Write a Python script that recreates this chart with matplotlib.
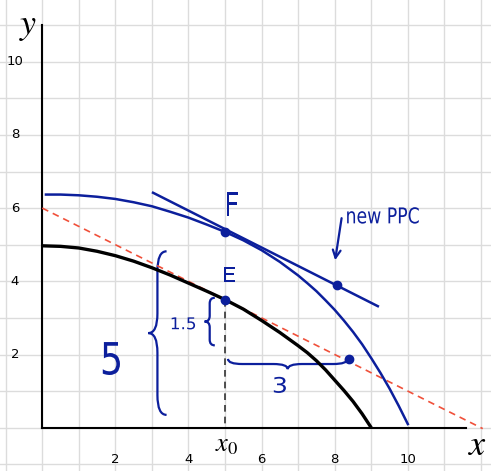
import numpy as np
import matplotlib.pyplot as plt
from matplotlib.path import Path
from matplotlib.patches import PathPatch
from matplotlib.textpath import TextPath
from matplotlib.font_manager import FontProperties
from matplotlib.transforms import Affine2D

# original PPC (black)
ppc_x = [0, 0.5, 1, 1.5, 2, 2.5, 3, 3.5, 4, 4.5, 5, 5.5, 6, 6.5, 7, 7.25, 7.5, 7.75, 8, 8.25, 8.5, 8.75, 9]
ppc_y = [4.97, 4.955, 4.91, 4.82, 4.70, 4.55, 4.37, 4.17, 3.95, 3.73, 3.50, 3.24, 2.93, 2.60, 2.24, 2.05, 1.83, 1.58, 1.30, 1.02, 0.72, 0.38, 0.0]

# new PPC (blue)
new_x = [0.1, 0.5, 1, 1.5, 2, 2.5, 3, 3.5, 4, 4.5, 5, 5.5, 6, 6.5, 7, 7.25, 7.5, 7.75, 8, 8.25, 8.5, 8.75, 9, 9.25, 9.5, 9.75, 10]
new_y = [6.37, 6.37, 6.35, 6.31, 6.25, 6.16, 6.05, 5.90, 5.74, 5.55, 5.35, 5.12, 4.85, 4.53, 4.16, 3.95, 3.73, 3.48, 3.22, 2.93, 2.62, 2.28, 1.90, 1.50, 1.07, 0.60, 0.10]

# price line (red dashed) and tangent at F (blue)
red_x = [0, 12.05]
red_y = [6.0, -0.025]
tan_x = [3.03, 9.18]
tan_y = [6.42, 3.32]

# marked points
pts_x = [5.0, 5.0, 8.05, 8.4]
pts_y = [3.5, 5.36, 3.89, 1.87]

x_ticks = [2, 4, 6, 8, 10]
y_ticks = [2, 4, 6, 8, 10]

BLUE = "#0c1f9c"


def brace(ax, a, b, pos, depth, vertical=True, **kw):
    # curly brace from a to b, tip pointing towards pos - depth
    m = (a + b) / 2
    h = 0.12 * abs(b - a)
    s = 1 if b > a else -1
    mid = pos - depth / 2
    tip = pos - depth
    pts = [(pos, a), (mid, a), (mid, a + s * h),
           (mid, m - s * h), (mid, m), (tip, m),
           (mid, m), (mid, m + s * h),
           (mid, b - s * h), (mid, b), (pos, b)]
    codes = [Path.MOVETO, Path.CURVE3, Path.CURVE3,
             Path.LINETO, Path.CURVE3, Path.CURVE3,
             Path.CURVE3, Path.CURVE3,
             Path.LINETO, Path.CURVE3, Path.CURVE3]
    if not vertical:
        pts = [(q, p) for p, q in pts]
    ax.add_patch(PathPatch(Path(pts, codes), fill=False, **kw))


def hand_text(ax, x, y, s, w, h):
    # squeezed text (handwritten notes are tall and narrow)
    tp = TextPath((0, 0), s, size=20, prop=FontProperties(family="DejaVu Sans"))
    bb = tp.get_extents()
    tr = (Affine2D().translate(-(bb.x0 + bb.x1) / 2, -(bb.y0 + bb.y1) / 2)
          .scale(w / bb.width, h / bb.height).translate(x, y))
    ax.add_patch(PathPatch(tr.transform_path(tp), facecolor=BLUE, lw=0))


fig = plt.figure(figsize=(4.91, 4.71), dpi=100)
ax = fig.add_axes([0, 0, 1, 1])
ax.set_xlim(-1.157, 12.276)
ax.set_ylim(-1.183, 11.686)
for s in ax.spines.values():
    s.set_visible(False)
ax.set_xticks(range(-1, 13))
ax.set_yticks(range(-1, 12))
ax.tick_params(length=0, labelbottom=False, labelleft=False)
ax.grid(True, color="#dcdcdc", lw=1)
ax.set_axisbelow(True)

# axes lines
ax.plot([0, 0], [0, 11.0], color="black", lw=1.5)
ax.plot([0, 11.6], [0, 0], color="black", lw=1.5)

for t in x_ticks:
    ax.text(t, -0.88, str(t), ha="center", va="center", fontsize=9.5)
for t in y_ticks:
    ax.text(-0.75, t, str(t), ha="center", va="center", fontsize=9.5)

plt.rcParams["mathtext.fontset"] = "stix"
ax.text(-0.38, 10.98, "$y$", ha="center", va="center", fontsize=26)
ax.text(11.9, -0.48, "$x$", ha="center", va="center", fontsize=26)
ax.text(5.05, -0.45, "$x_0$", ha="center", va="center", fontsize=19)

ax.plot(red_x, red_y, color="#f0503a", lw=1.2, dashes=(4, 3))
ax.plot(ppc_x, ppc_y, color="black", lw=2.4, solid_capstyle="butt")
ax.plot(new_x, new_y, color=BLUE, lw=1.8)
ax.plot(tan_x, tan_y, color=BLUE, lw=1.8)
ax.plot([5, 5], [3.5, 0], color="#333333", lw=1.2, dashes=(4, 3))
ax.plot(pts_x, pts_y, "o", color=BLUE, ms=6)

# handwritten notes
hand_text(ax, 5.2, 6.11, "F", 0.30, 0.66)
hand_text(ax, 5.12, 4.19, "E", 0.30, 0.41)
hand_text(ax, 3.86, 2.85, "1.5", 0.64, 0.33)
hand_text(ax, 1.89, 1.89, "5", 0.47, 0.90)
hand_text(ax, 6.5, 1.17, "3", 0.33, 0.44)
hand_text(ax, 9.32, 5.80, "new PPC", 1.96, 0.45)
ax.annotate("", xy=(8.0, 4.5), xytext=(8.2, 5.8),
            arrowprops=dict(arrowstyle="->", color=BLUE, lw=1.6, mutation_scale=14))

brace(ax, 4.82, 0.35, 3.4, 0.5, lw=1.6, edgecolor=BLUE)
brace(ax, 3.55, 2.25, 4.72, 0.28, lw=1.6, edgecolor=BLUE)
brace(ax, 5.08, 8.35, 1.88, 0.28, vertical=False, lw=1.6, edgecolor=BLUE)

fig.savefig("out.png", dpi=100)
